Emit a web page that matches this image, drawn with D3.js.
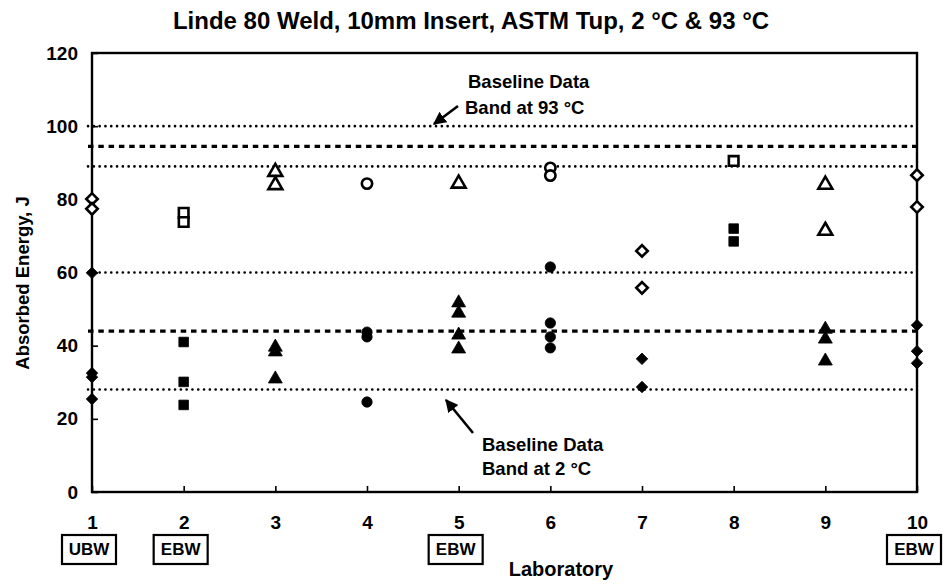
<!DOCTYPE html>
<html>
<head>
<meta charset="utf-8">
<script src="https://cdn.jsdelivr.net/npm/d3@7"></script>
<style>
  body { margin: 0; background: #fff; }
  svg { display: block; font-family: "Liberation Sans", Arial, sans-serif; }
</style>
</head>
<body>
<svg id="chart" width="946" height="585"></svg>
<script>
// laboratories and the marker shape each one used
const labs = [1, 2, 3, 4, 5, 6, 7, 8, 9, 10];
const labShapes = ["diamond", "square", "triangle", "circle", "triangle",
                   "circle", "diamond", "square", "triangle", "diamond"];

// absorbed energy (J) per lab, open markers = 93 C, filled markers = 2 C
const energy93 = [[80.1, 77.4], [76.3, 73.8], [87.5, 83.9], [84.3], [84.3],
                  [88.6, 86.5], [65.9, 55.8], [90.5], [84.0, 71.4], [86.6, 77.9]];
const energy2 = [[59.9, 32.5, 31.4, 25.4], [41.0, 30.1, 23.8], [39.6, 38.3, 30.9],
                 [43.7, 42.4, 24.6], [51.7, 48.9, 42.9, 39.1], [61.5, 46.2, 42.4, 39.4],
                 [36.4, 28.7], [72.0, 68.5], [44.5, 41.8, 35.8], [45.6, 38.5, 35.2]];

// baseline bands: edges dotted, means dashed
const bandEdges = [100, 89, 60, 28];
const bandMeans = [94.5, 44];

const yTicks = [0, 20, 40, 60, 80, 100, 120];

// weld type boxes under some labs
const weldLabs = [1, 2, 5, 10];
const weldNames = ["UBW", "EBW", "EBW", "EBW"];

const svg = d3.select("#chart");
const margin = { top: 53, right: 29, bottom: 93, left: 92 };
const width = 946, height = 585;
const innerW = width - margin.left - margin.right;
const innerH = height - margin.top - margin.bottom;

const x = d3.scaleLinear().domain([1, 10]).range([0, innerW]);
const y = d3.scaleLinear().domain([0, 120]).range([innerH, 0]);

const g = svg.append("g").attr("transform", `translate(${margin.left},${margin.top})`);

// title
svg.append("text")
  .attr("x", 471).attr("y", 29)
  .attr("text-anchor", "middle")
  .attr("font-size", 24).attr("font-weight", "bold")
  .text("Linde 80 Weld, 10mm Insert, ASTM Tup, 2 °C & 93 °C");

// band lines
g.selectAll(".edge").data(bandEdges).enter().append("line")
  .attr("class", "edge")
  .attr("x1", -4).attr("x2", innerW)
  .attr("y1", d => y(d)).attr("y2", d => y(d))
  .attr("stroke", "#000").attr("stroke-width", 2.6)
  .attr("stroke-linecap", "round")
  .attr("stroke-dasharray", "0.1 5.7");

g.selectAll(".mean").data(bandMeans).enter().append("line")
  .attr("class", "mean")
  .attr("x1", -4).attr("x2", innerW)
  .attr("y1", d => y(d)).attr("y2", d => y(d))
  .attr("stroke", "#000").attr("stroke-width", 3.2)
  .attr("stroke-dasharray", "5.5 4.8");

// axes
const yAxis = d3.axisLeft(y).tickValues(yTicks)
  .tickSizeInner(-6).tickSizeOuter(0).tickPadding(14);
const yg = g.append("g").call(yAxis);
yg.select(".domain").remove();
yg.selectAll("line").attr("stroke", "#000").attr("stroke-width", 1.6);
yg.selectAll("text").attr("font-size", 19).attr("font-weight", "bold")
  .attr("font-family", "Liberation Sans, Arial, sans-serif").attr("fill", "#000");

const xAxis = d3.axisBottom(x).tickValues(labs)
  .tickSizeInner(-6).tickSizeOuter(0).tickPadding(24);
const xg = g.append("g").attr("transform", `translate(0,${innerH})`).call(xAxis);
xg.select(".domain").remove();
xg.selectAll("line").attr("stroke", "#000").attr("stroke-width", 1.6);
xg.selectAll("text").attr("font-size", 19).attr("font-weight", "bold")
  .attr("font-family", "Liberation Sans, Arial, sans-serif").attr("fill", "#000");

// frame
g.append("rect")
  .attr("width", innerW).attr("height", innerH)
  .attr("fill", "none").attr("stroke", "#000").attr("stroke-width", 2.4);

// markers
const symbolOf = {
  diamond: d3.symbol().type(d3.symbolSquare).size(66),
  square: d3.symbol().type(d3.symbolSquare).size(92),
  triangle: d3.symbol().type(d3.symbolTriangle).size(84),
  circle: d3.symbol().type(d3.symbolCircle).size(84)
};

const points = [];
labs.forEach((lab, i) => {
  energy93[i].forEach(v => points.push({ lab, v, shape: labShapes[i], open: true }));
  energy2[i].forEach(v => points.push({ lab, v, shape: labShapes[i], open: false }));
});

g.selectAll(".pt").data(points).enter().append("path")
  .attr("class", "pt")
  .attr("d", d => symbolOf[d.shape]())
  .attr("transform", d => `translate(${x(d.lab)},${y(d.v)})` + (d.shape === "diamond" ? " rotate(45)" : ""))
  .attr("fill", d => d.open ? "#fff" : "#000")
  .attr("stroke", "#000")
  .attr("stroke-width", d => d.open ? 2.6 : 0.8);

// annotations
const note = svg.append("g").attr("font-weight", "bold").attr("font-size", 18.5);
note.append("text").attr("x", 468).attr("y", 88).text("Baseline Data");
note.append("text").attr("x", 465).attr("y", 114).text("Band at 93 °C");
note.append("text").attr("x", 482).attr("y", 451).text("Baseline Data");
note.append("text").attr("x", 482).attr("y", 475).text("Band at 2 °C");

svg.append("defs").append("marker")
  .attr("id", "head").attr("viewBox", "0 0 10 10")
  .attr("refX", 9).attr("refY", 5)
  .attr("markerWidth", 5).attr("markerHeight", 5)
  .attr("orient", "auto")
  .append("path").attr("d", "M0,0L10,5L0,10Z").attr("fill", "#000");

svg.append("line")
  .attr("x1", 458).attr("y1", 106).attr("x2", 434).attr("y2", 124)
  .attr("stroke", "#000").attr("stroke-width", 2.6).attr("marker-end", "url(#head)");
svg.append("line")
  .attr("x1", 473).attr("y1", 433).attr("x2", 446).attr("y2", 400)
  .attr("stroke", "#000").attr("stroke-width", 2.6).attr("marker-end", "url(#head)");

// weld type boxes
const boxes = svg.selectAll(".weld").data(weldLabs).enter().append("g")
  .attr("class", "weld")
  .attr("transform", d => `translate(${margin.left + x(d) - 3},549)`);
boxes.append("rect")
  .attr("x", -27).attr("y", -14).attr("width", 54).attr("height", 29)
  .attr("fill", "#fff").attr("stroke", "#000").attr("stroke-width", 2.2);
boxes.append("text")
  .attr("text-anchor", "middle").attr("dy", "0.36em")
  .attr("font-size", 17).attr("font-weight", "bold")
  .text((d, i) => weldNames[i]);

// axis titles
svg.append("text")
  .attr("x", 561).attr("y", 576)
  .attr("text-anchor", "middle")
  .attr("font-size", 20).attr("font-weight", "bold")
  .text("Laboratory");

svg.append("text")
  .attr("transform", "translate(29,283) rotate(-90)")
  .attr("text-anchor", "middle")
  .attr("font-size", 18.5).attr("font-weight", "bold")
  .text("Absorbed Energy,  J");
</script>
</body>
</html>
